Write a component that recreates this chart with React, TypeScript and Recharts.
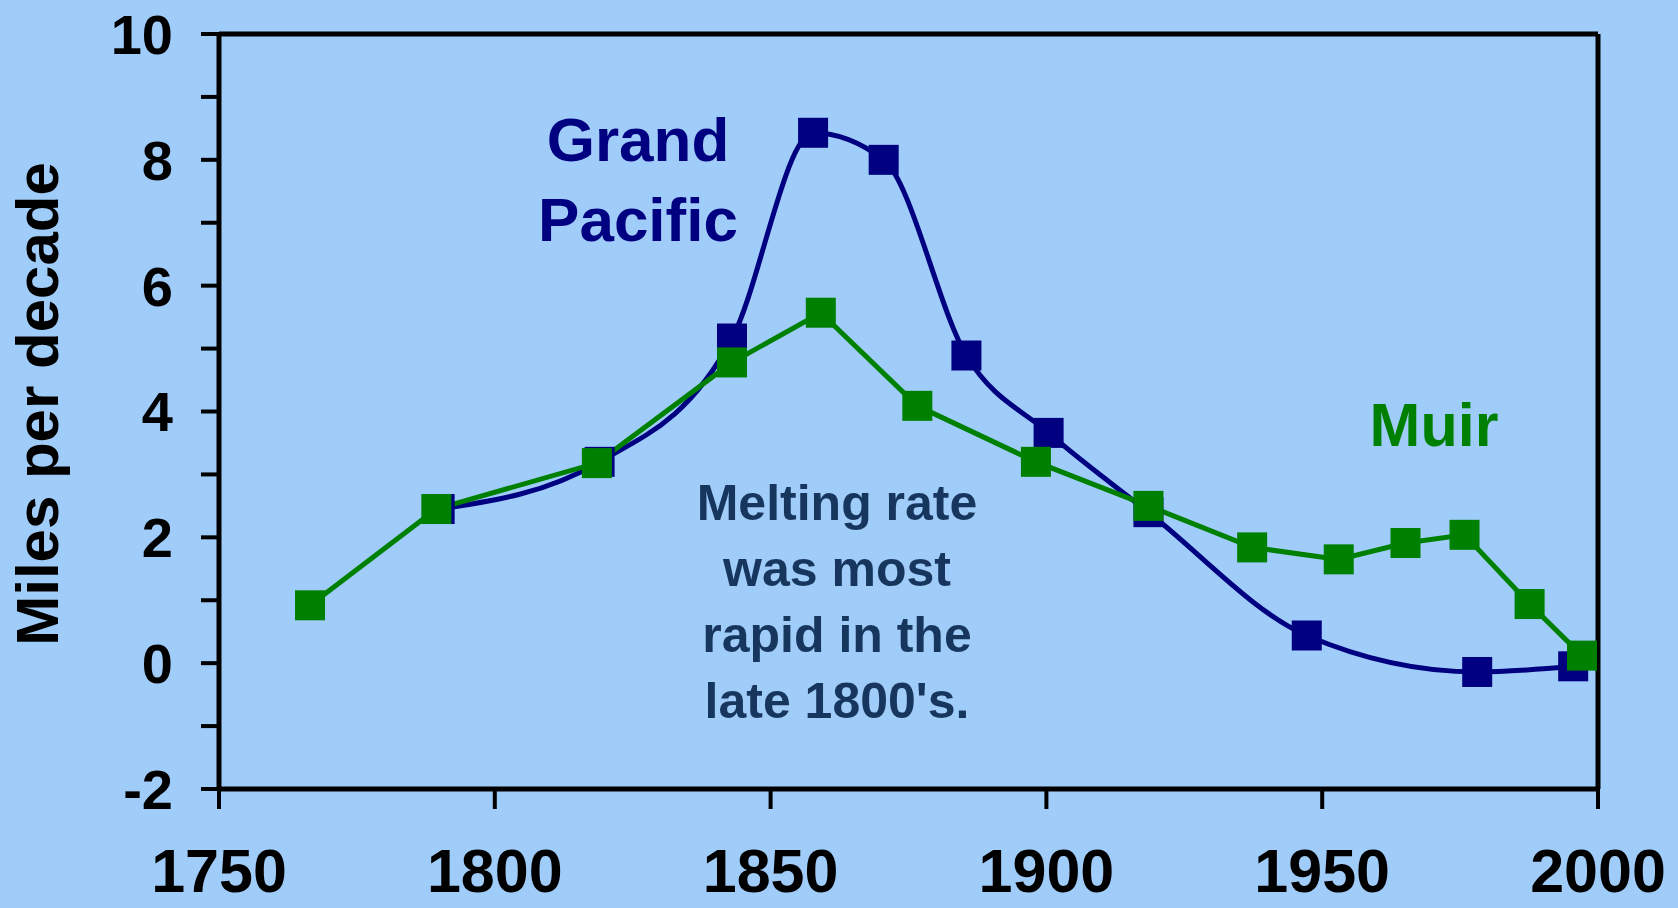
import React from 'react';
import { LineChart, Line, XAxis, YAxis, ReferenceLine } from 'recharts';

// Glacier retreat rates, miles per decade
const grandPacific = [
  { year: 1790, rate: 2.45 },
  { year: 1819, rate: 3.2 },
  { year: 1843, rate: 5.16 },
  { year: 1857.7, rate: 8.43 },
  { year: 1870.5, rate: 8.0 },
  { year: 1885.5, rate: 4.89 },
  { year: 1900.4, rate: 3.66 },
  { year: 1918.5, rate: 2.4 },
  { year: 1947.2, rate: 0.44 },
  { year: 1978.1, rate: -0.14 },
  { year: 1995.5, rate: -0.05 },
];

const muir = [
  { year: 1766.5, rate: 0.92 },
  { year: 1789.4, rate: 2.45 },
  { year: 1818.5, rate: 3.18 },
  { year: 1843, rate: 4.78 },
  { year: 1859.1, rate: 5.57 },
  { year: 1876.6, rate: 4.09 },
  { year: 1898.1, rate: 3.2 },
  { year: 1918.5, rate: 2.5 },
  { year: 1937.3, rate: 1.84 },
  { year: 1953, rate: 1.65 },
  { year: 1965.1, rate: 1.91 },
  { year: 1975.8, rate: 2.04 },
  { year: 1987.6, rate: 0.94 },
  { year: 1997.1, rate: 0.12 },
];

const xTicks = [1750, 1800, 1850, 1900, 1950, 2000];
const yTicks = [-2, -1, 0, 1, 2, 3, 4, 5, 6, 7, 8, 9, 10];
const noteLines = ['Melting rate', 'was most', 'rapid in the', "late 1800's."];

const BG = '#a0ccf9';
const NAVY = '#000080';
const GREEN = '#008000';
const FONT = '"Liberation Sans", Arial, sans-serif';

const square = (color: string) => (props: any) => {
  const { cx, cy, index } = props;
  if (cx == null || cy == null) return <g key={index} />;
  return <rect key={index} x={cx - 15} y={cy - 15} width={30} height={30} fill={color} />;
};

export default function App() {
  const W = 1678;
  const H = 908;
  return (
    <div style={{ position: 'absolute', left: 0, top: 0, width: W, height: H, background: BG }}>
      <LineChart
        width={W}
        height={H}
        margin={{ top: 34, right: 80, bottom: 19, left: 69 }}
      >
        <XAxis
          type="number"
          dataKey="year"
          domain={[1750, 2000]}
          ticks={xTicks}
          allowDataOverflow
          height={100}
          axisLine={{ stroke: '#000', strokeWidth: 5 }}
          tickLine={{ stroke: '#000', strokeWidth: 4 }}
          tickSize={20}
          tickMargin={40}
          tick={{ fill: '#000', fontSize: 61, fontWeight: 'bold', fontFamily: FONT }}
        />
        <YAxis
          type="number"
          dataKey="rate"
          domain={[-2, 10]}
          ticks={yTicks}
          interval={0}
          width={150}
          axisLine={{ stroke: '#000', strokeWidth: 5 }}
          tickLine={{ stroke: '#000', strokeWidth: 4 }}
          tickSize={18}
          tickMargin={28}
          tickFormatter={(v: number) => (v % 2 === 0 ? String(v) : '')}
          tick={{ fill: '#000', fontSize: 56, fontWeight: 'bold', fontFamily: FONT }}
        />
        <ReferenceLine y={10} stroke="#000" strokeWidth={5} />
        <ReferenceLine x={2000} stroke="#000" strokeWidth={5} />
        <Line
          data={grandPacific}
          dataKey="rate"
          type="monotone"
          stroke={NAVY}
          strokeWidth={5}
          dot={square(NAVY)}
          activeDot={false}
          isAnimationActive={false}
        />
        <Line
          data={muir}
          dataKey="rate"
          type="linear"
          stroke={GREEN}
          strokeWidth={5}
          dot={square(GREEN)}
          activeDot={false}
          isAnimationActive={false}
        />
      </LineChart>
      <svg
        width={W}
        height={H}
        style={{ position: 'absolute', left: 0, top: 0, pointerEvents: 'none' }}
        fontFamily={FONT}
        fontWeight="bold"
        textAnchor="middle"
      >
        <text
          x={37}
          y={404}
          fontSize={60}
          fill="#000"
          dominantBaseline="central"
          transform="rotate(-90 37 404)"
        >
          Miles per decade
        </text>
        <text x={638} y={139} fontSize={62} fill={NAVY} dominantBaseline="central">Grand</text>
        <text x={638} y={219} fontSize={62} fill={NAVY} dominantBaseline="central">Pacific</text>
        <text x={1434} y={425} fontSize={61} fill={GREEN} dominantBaseline="central">Muir</text>
        {noteLines.map((t, i) => (
          <text
            key={t}
            x={837}
            y={503 + i * 66}
            fontSize={50}
            fill="#17365d"
            dominantBaseline="central"
          >
            {t}
          </text>
        ))}
      </svg>
    </div>
  );
}
